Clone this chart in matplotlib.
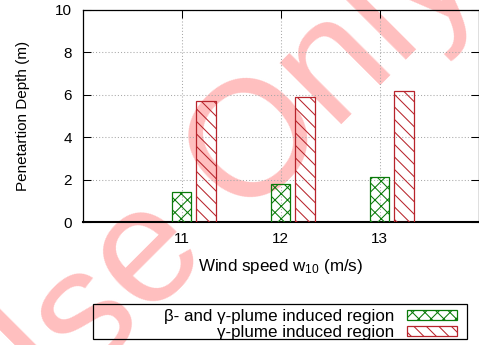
import matplotlib
matplotlib.use("Agg")
import matplotlib.pyplot as plt
from matplotlib.patches import Rectangle
import numpy as np

# data
wind = [11, 12, 13]
beta_gamma = [1.4, 1.8, 2.1]
gamma = [5.7, 5.9, 6.2]
labels = ["\u03b2- and \u03b3-plume induced region", "\u03b3-plume induced region"]

green = "#0a7a0a"
red = "#b8242c"

plt.rcParams.update({
    "font.family": ["Liberation Sans", "DejaVu Sans"],
    "font.size": 7.3,
    "hatch.linewidth": 0.5,
    "mathtext.fontset": "custom",
    "mathtext.rm": "Liberation Sans",
    "mathtext.it": "Liberation Sans",
})

W, H, DPI = 479, 345, 150
fig = plt.figure(figsize=(W / DPI, H / DPI), dpi=DPI)
fig.patch.set_facecolor("white")

# watermark behind everything (baseline start sits off the lower-left corner)
fig.text(4 / W, 1 - 462 / H, "Use Only", fontsize=79, color="#ffbfbf",
         rotation=45, rotation_mode="anchor", ha="left", va="baseline",
         zorder=-5)

ax = fig.add_axes([82.5 / W, 1 - 222 / H, (478.5 - 82.5) / W, (222 - 10) / H])
ax.set_facecolor("none")

x = np.array(wind, dtype=float)
bw = 0.2
ax.bar(x, beta_gamma, bw, facecolor="none", edgecolor=green, hatch="xxxx",
       linewidth=0.6, label=labels[0], zorder=3)
ax.bar(x + 0.25, gamma, bw, facecolor="none", edgecolor=red,
       hatch="\\\\\\\\", linewidth=0.6, label=labels[1], zorder=3)

ax.set_xlim(10, 14)
ax.set_ylim(0, 10)
ax.set_xticks(wind)
ax.set_yticks(np.arange(0, 11, 2))
ax.tick_params(direction="in", length=3.8, width=0.5, top=True, right=True,
               pad=5)
ax.tick_params(axis="x", bottom=False, labelbottom=True, pad=5)
ax.grid(True, color="#a8a8a8", linestyle=(0, (1, 2)), linewidth=0.5)
ax.set_axisbelow(True)
for s in ax.spines.values():
    s.set_linewidth(0.6)
ax.spines["bottom"].set_linewidth(1.0)

ax.set_xlabel("Wind speed w$_{10}$ (m/s)", labelpad=5, fontsize=8.2)
ax.set_ylabel("Penetartion Depth (m)", labelpad=12)

# key: frame drawn by hand, gnuplot makes it wider than the entries
fig.patches.append(Rectangle((93 / W, 1 - 339 / H), (467 - 93) / W, 35 / H,
                             transform=fig.transFigure, facecolor="none",
                             edgecolor="black", linewidth=0.6))
leg = fig.legend(loc="lower right", bbox_to_anchor=(457 / W, 1 - 340 / H),
                 bbox_transform=fig.transFigure, borderaxespad=0,
                 markerfirst=False, frameon=False, fontsize=8.2,
                 handlelength=2.9, handleheight=0.5,
                 labelspacing=0.05, borderpad=0.0, handletextpad=0.8)

fig.savefig("out.png", dpi=DPI)
